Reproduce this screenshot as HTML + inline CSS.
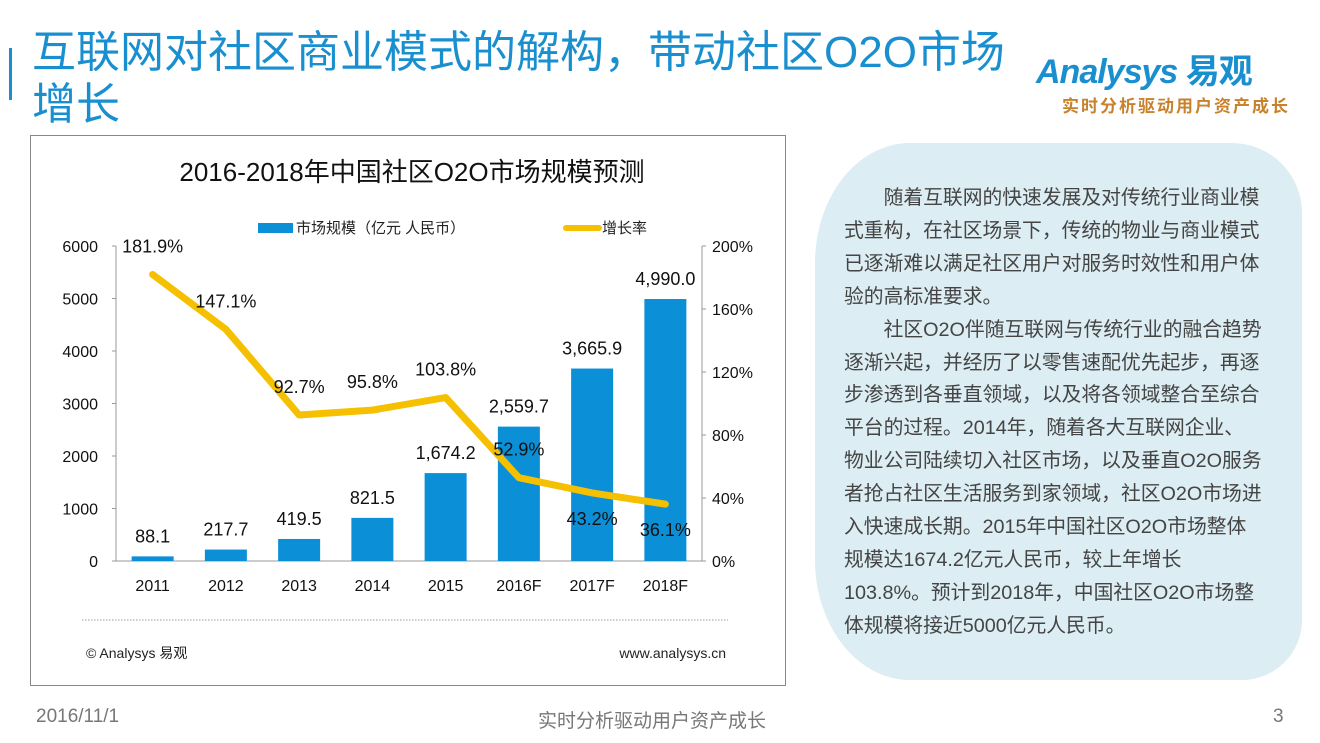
<!DOCTYPE html>
<html><head><meta charset="utf-8">
<style>
body{margin:0;width:1320px;height:743px;background:#fff;position:relative;overflow:hidden;font-family:"Liberation Sans","Noto Sans CJK SC",sans-serif}
.abs{position:absolute}
#title{left:32px;top:27px;font-size:44px;line-height:52px;color:#1a8fd0;letter-spacing:0}
#bar-accent{left:9px;top:48px;width:3px;height:52px;background:#1a8fd0}
#chart-frame{left:30px;top:135px;width:756px;height:551px;border:1px solid #888;box-sizing:border-box}
#textbox{left:815px;top:143px;width:487px;height:537px;background:#dcedf3;border-radius:95px 70px 60px 95px/120px 70px 60px 120px}
#textbox p{margin:0;position:absolute;left:29px;top:39px;width:450px;font-size:19.8px;line-height:32.9px;color:#444;white-space:nowrap}
</style></head><body>
<div class="abs" id="bar-accent"></div>
<div class="abs" id="title">互联网对社区商业模式的解构，带动社区O2O市场<br>增长</div>
<div class="abs" style="left:1036px;top:44px;color:#1a8fd0;font-size:34px;font-weight:bold;font-style:italic;letter-spacing:-1px">Analysys <span style="font-style:normal">易观</span></div>
<div class="abs" style="left:1062px;top:92px;color:#c8812c;font-size:17px;font-weight:bold;letter-spacing:2px">实时分析驱动用户资产成长</div>

<div class="abs" id="chart-frame"></div>
<svg class="abs" style="left:0;top:0" width="800" height="700">
<text x="412" y="181" text-anchor="middle" font-size="26" fill="#111">2016-2018年中国社区O2O市场规模预测</text>
<rect x="258" y="223" width="35" height="10" fill="#0b8fd6"/>
<text x="296" y="233" font-size="15" fill="#222">市场规模（亿元 人民币）</text>
<line x1="566" y1="228" x2="599" y2="228" stroke="#f5c000" stroke-width="6" stroke-linecap="round"/>
<text x="602" y="233" font-size="15" fill="#222">增长率</text>
<g id="axes"></g><g id="bars"></g><g id="line"></g><g id="labels"></g>
<line x1="82" y1="620" x2="728" y2="620" stroke="#999" stroke-dasharray="1.5 1.5"/>
<text x="86" y="658" font-size="14" fill="#222">© Analysys 易观</text>
<text x="726" y="658" font-size="14" fill="#222" text-anchor="end">www.analysys.cn</text>
</svg>

<div class="abs" id="textbox"><p>　　随着互联网的快速发展及对传统行业商业模<br>式重构，在社区场景下，传统的物业与商业模式<br>已逐渐难以满足社区用户对服务时效性和用户体<br>验的高标准要求。<br>　　社区O2O伴随互联网与传统行业的融合趋势<br>逐渐兴起，并经历了以零售速配优先起步，再逐<br>步渗透到各垂直领域，以及将各领域整合至综合<br>平台的过程。2014年，随着各大互联网企业、<br>物业公司陆续切入社区市场，以及垂直O2O服务<br>者抢占社区生活服务到家领域，社区O2O市场进<br>入快速成长期。2015年中国社区O2O市场整体<br>规模达1674.2亿元人民币，较上年增长<br>103.8%。预计到2018年，中国社区O2O市场整<br>体规模将接近5000亿元人民币。</p></div>

<div class="abs" style="left:36px;top:706px;font-size:19px;color:#777">2016/11/1</div>
<div class="abs" style="left:538px;top:706px;font-size:19px;color:#777">实时分析驱动用户资产成长</div>
<div class="abs" style="left:1273px;top:706px;font-size:19px;color:#777">3</div>

<script>
const categories=["2011","2012","2013","2014","2015","2016F","2017F","2018F"];
const sizeValues=[88.1,217.7,419.5,821.5,1674.2,2559.7,3665.9,4990.0];
const growthValues=[181.9,147.1,92.7,95.8,103.8,52.9,43.2,36.1];
const leftTicks=[0,1000,2000,3000,4000,5000,6000];
const rightTicks=[0,40,80,120,160,200];
const NS="http://www.w3.org/2000/svg";
const x0=116,x1=702,yB=561,yT=246;
const band=(x1-x0)/categories.length;
const xc=i=>x0+band*(i+0.5);
const yL=v=>yB-(v/6000)*(yB-yT);
const yR=v=>yB-(v/200)*(yB-yT);
function mk(tag,attrs,parent,txt){const e=document.createElementNS(NS,tag);for(const k in attrs)e.setAttribute(k,attrs[k]);if(txt!==undefined)e.textContent=txt;document.getElementById(parent).appendChild(e);return e;}
let e;
e=mk("line",{x1:x0,y1:yB,x2:x1,y2:yB,stroke:"#999"},"axes");


e=mk("line",{x1:x0,y1:yT,x2:x0,y2:yB,stroke:"#999"},"axes");


e=mk("line",{x1:x1,y1:yT,x2:x1,y2:yB,stroke:"#999"},"axes");


leftTicks.forEach(t=>{
  e=mk("line",{x1:x0-4,y1:yL(t),x2:x0,y2:yL(t),stroke:"#999"},"axes");
  
  
  e=mk("text",{x:98,y:yL(t)+6,"font-size":16,"text-anchor":"end",fill:"#111"},"axes",String(t));
  
  
});
rightTicks.forEach(t=>{
  e=mk("line",{x1:x1,y1:yR(t),x2:x1+4,y2:yR(t),stroke:"#999"},"axes");
  
  
  e=mk("text",{x:712,y:yR(t)+6,"font-size":16,fill:"#111"},"axes",t+"%");
  
  
});
categories.forEach((c,i)=>{
  e=mk("text",{x:xc(i),y:591,"font-size":16,"text-anchor":"middle",fill:"#111"},"axes",c);
  
  
  const v=sizeValues[i];
  e=mk("rect",{x:xc(i)-21,y:yL(v),width:42,height:yB-yL(v),fill:"#0b8fd6"},"bars");
  
  
  e=mk("text",{x:xc(i),y:yL(v)-14,"font-size":18,"text-anchor":"middle",fill:"#111"},"labels",v.toLocaleString("en-US",{minimumFractionDigits:1,maximumFractionDigits:1}));
  
  
});
e=mk("polyline",{points:growthValues.map((v,i)=>xc(i)+","+yR(v)).join(" "),fill:"none",stroke:"#f5c000","stroke-width":7,"stroke-linejoin":"round","stroke-linecap":"round"},"line");


growthValues.forEach((v,i)=>{
  const below=i>=6;
  e=mk("text",{x:xc(i),y:below?yR(v)+32:yR(v)-22,"font-size":18,"text-anchor":"middle",fill:"#111"},"labels",v.toFixed(1)+"%");
  
  
});
</script>
</body></html>
